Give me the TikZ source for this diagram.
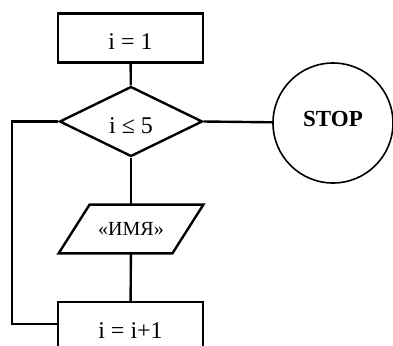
\documentclass[tikz,border=0pt]{standalone}
\usepackage{fontspec}
\setmainfont{Liberation Serif}
\usetikzlibrary{shapes.geometric}

\tikzset{
  block/.style = {draw, very thick, minimum width=72.5pt, minimum height=24.5pt, inner sep=0pt, text height=11.8pt, text depth=0pt, font=\fontsize{12}{14}\selectfont},
  check/.style = {draw, very thick, diamond, aspect=2, minimum width=71.5pt, minimum height=35pt, inner sep=0pt, text height=11.8pt, text depth=0pt, font=\fontsize{12}{14}\selectfont},
  inout/.style = {minimum width=72pt, minimum height=24pt, inner sep=0pt, font=\fontsize{10}{12}\selectfont},
  term/.style = {draw, thick, circle, minimum size=60pt, inner sep=0pt, text depth=4pt, font=\fontsize{11.5}{13}\selectfont\bfseries},
  link/.style = {very thick}
}

\begin{document}
\begin{tikzpicture}[x=0.5pt, y=-0.5pt]
    \useasboundingbox (0,0) rectangle (393,345);

    \node [block] (init) at (130.5,37.8) {i = 1};
    \node [check] (cond) at (131,121.5) {i ≤ 5};
    \node [inout] (print) at (131,229) {«ИМЯ»};
    \node [block] (incr) at (130.5,326.5) {i = i+1};
    \node [term] (stop) at (333,123) {STOP};

    % parallelogram frame of the output block
    \draw [link] (print.south west) -- ([xshift=-15.5pt]print.south east)
        -- (print.north east) -- ([xshift=15.5pt]print.north west) -- cycle;

    \coordinate (backtop) at (12,121.5);
    \coordinate (backbot) at (12,324);

    \draw [link] (init) -- (cond);
    \draw [link] (cond) -- (print);
    \draw [link] (print) -- (incr);
    \draw [link] (cond.east) -- (stop);
    \draw [link] (cond.west) -- (backtop) -- (backbot) -- (incr.west |- backbot);
\end{tikzpicture}
\end{document}
